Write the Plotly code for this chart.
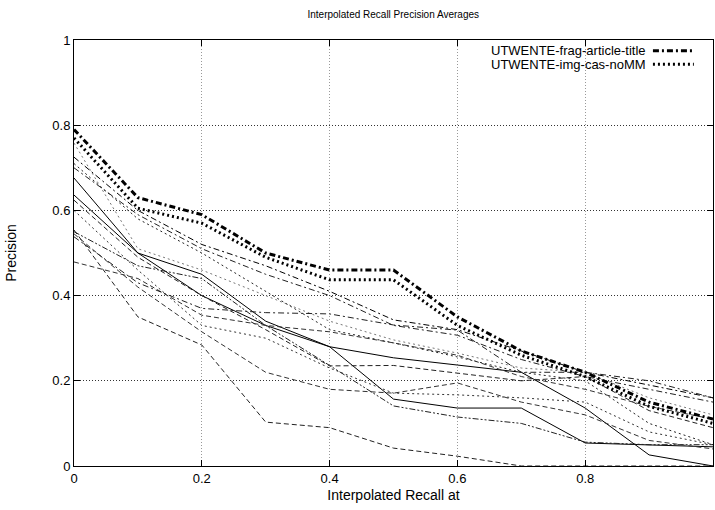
import plotly.graph_objects as go

recall = [0.0, 0.1, 0.2, 0.3, 0.4, 0.5, 0.6, 0.7, 0.8, 0.9, 1.0]

frag_article_title = [0.79, 0.63, 0.59, 0.50, 0.46, 0.46, 0.35, 0.27, 0.22, 0.15, 0.11]
img_cas_nomm = [0.77, 0.605, 0.57, 0.49, 0.437, 0.437, 0.33, 0.26, 0.21, 0.14, 0.10]

run_t1 = [0.725, 0.60, 0.52, 0.47, 0.41, 0.343, 0.32, 0.27, 0.22, 0.19, 0.16]
run_t2 = [0.70, 0.59, 0.51, 0.45, 0.40, 0.33, 0.307, 0.25, 0.21, 0.18, 0.15]
run_t3 = [0.758, 0.51, 0.46, 0.40, 0.34, 0.296, 0.265, 0.23, 0.22, 0.16, 0.12]
run_t4 = [0.676, 0.50, 0.45, 0.34, 0.28, 0.254, 0.237, 0.22, 0.136, 0.026, 0.0]
run_t5 = [0.636, 0.50, 0.40, 0.33, 0.28, 0.157, 0.136, 0.136, 0.054, 0.05, 0.045]
run_t6 = [0.71, 0.58, 0.50, 0.41, 0.32, 0.289, 0.256, 0.22, 0.20, 0.10, 0.05]
run_t7 = [0.624, 0.49, 0.40, 0.32, 0.235, 0.236, 0.218, 0.20, 0.21, 0.13, 0.09]
run_t8 = [0.55, 0.47, 0.44, 0.33, 0.236, 0.141, 0.115, 0.10, 0.056, 0.05, 0.05]
run_t9 = [0.554, 0.35, 0.284, 0.103, 0.09, 0.042, 0.023, 0.0, 0.0, 0.0, 0.0]
run_t10 = [0.479, 0.44, 0.354, 0.33, 0.315, 0.289, 0.26, 0.21, 0.18, 0.14, 0.11]
run_t11 = [0.538, 0.43, 0.37, 0.36, 0.357, 0.331, 0.319, 0.22, 0.22, 0.20, 0.16]
run_t12 = [0.60, 0.46, 0.33, 0.30, 0.23, 0.171, 0.167, 0.16, 0.15, 0.08, 0.05]
run_t13 = [0.545, 0.42, 0.315, 0.22, 0.18, 0.171, 0.195, 0.15, 0.12, 0.06, 0.04]

x_ticks = [0, 0.2, 0.4, 0.6, 0.8, 1.0]
x_tick_labels = ["0", "0.2", "0.4", "0.6", "0.8", "1"]
y_ticks = [0, 0.2, 0.4, 0.6, 0.8, 1.0]
y_tick_labels = ["0", "0.2", "0.4", "0.6", "0.8", "1"]

legend_names = ["UTWENTE-frag-article-title", "UTWENTE-img-cas-noMM"]

DOT = "2px,3px"
DASH = "5px,3px"
DASHDOT = "6px,3px,2px,3px"
DASHDOTDOT = "6px,2px,2px,2px,2px,2px"

thin = [
    (run_t1, DASHDOT, "#000"),
    (run_t2, DASHDOT, "#222"),
    (run_t3, DOT, "#777"),
    (run_t4, "solid", "#000"),
    (run_t5, "solid", "#000"),
    (run_t6, DOT, "#222"),
    (run_t7, DASH, "#222"),
    (run_t8, DASHDOTDOT, "#222"),
    (run_t9, DASH, "#222"),
    (run_t10, DASH, "#333"),
    (run_t11, DASHDOT, "#222"),
    (run_t12, DOT, "#333"),
    (run_t13, DASH, "#333"),
]

fig = go.Figure()
for vals, dash, col in thin:
    fig.add_trace(go.Scatter(x=recall, y=vals, mode="lines", showlegend=False,
                             line=dict(color=col, width=1, dash=dash)))

fig.add_trace(go.Scatter(x=recall, y=frag_article_title, mode="lines", name=legend_names[0],
                         showlegend=False, line=dict(color="#000", width=3, dash="6px,3px,2px,3px")))
fig.add_trace(go.Scatter(x=recall, y=img_cas_nomm, mode="lines", name=legend_names[1],
                         showlegend=False, line=dict(color="#000", width=3, dash="2px,3px")))

font = "Liberation Sans, Arial, Helvetica, sans-serif"

# gnuplot-style key: text then line sample
key_rows = [(0.975, legend_names[0], "6px,3px,2px,3px"), (0.943, legend_names[1], "2px,3px")]
for ypos, name, dash in key_rows:
    fig.add_annotation(x=0.899, y=ypos, xref="paper", yref="paper", text=name,
                       showarrow=False, xanchor="right", yanchor="middle",
                       font=dict(family=font, size=13, color="#000"))
    fig.add_shape(type="line", xref="paper", yref="paper", x0=0.906, x1=0.970, y0=ypos, y1=ypos,
                  line=dict(color="#000", width=3, dash=dash))

axis_common = dict(showline=True, linecolor="#000", linewidth=1, mirror="ticks",
                   ticks="inside", ticklen=6, tickcolor="#000", zeroline=False,
                   showgrid=True, griddash="1px,2px", gridwidth=1,
                   tickfont=dict(family=font, size=13, color="#000"))

fig.update_xaxes(range=[0, 1], tickvals=x_ticks, ticktext=x_tick_labels, gridcolor="#999",
                 title=dict(text="Interpolated Recall at", font=dict(family=font, size=14, color="#000"), standoff=5),
                 **axis_common)
fig.update_yaxes(range=[0, 1], tickvals=y_ticks, ticktext=y_tick_labels, gridcolor="#333",
                 title=dict(text="Precision", font=dict(family=font, size=14, color="#000"), standoff=32),
                 **axis_common)

fig.update_layout(
    width=715, height=510,
    margin=dict(l=74, r=2, t=40, b=44),
    paper_bgcolor="#fff", plot_bgcolor="#fff",
    title=dict(text="Interpolated Recall Precision Averages", x=0.55, xanchor="center",
               y=0.972, yanchor="middle", font=dict(family=font, size=10, color="#000")),
    showlegend=False,
)

fig.write_html("out.html", config={"displayModeBar": False})

# remove the default page margin so the figure sits at the window origin
with open("out.html", "r", encoding="utf-8") as f:
    html = f.read()
html = html.replace("<body>", '<body style="margin:0;padding:0">', 1)
with open("out.html", "w", encoding="utf-8") as f:
    f.write(html)
